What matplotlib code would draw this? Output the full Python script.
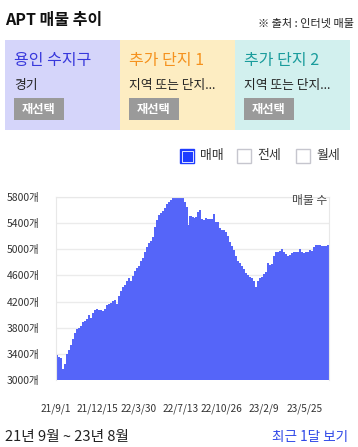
import numpy as np
import pandas as pd
import matplotlib
matplotlib.use('Agg')
import matplotlib.pyplot as plt
from matplotlib.patches import Rectangle

plt.rcParams['font.family'] = ['Noto Sans CJK KR', 'DejaVu Sans']

# data ==========================================================
period_start = '2021-09-01'
period_end   = '2023-07-25'

listings = [
    3377, 3345, 3340, 3175, 3250, 3400, 3460, 3540, 3620, 3720,
    3785, 3795, 3820, 3880, 3905, 3940, 3990, 3950, 4030, 4070,
    4080, 4075, 4068, 4062, 4085, 4140, 4170, 4175, 4215, 4220,
    4165, 4290, 4366, 4420, 4453, 4520, 4556, 4515, 4592, 4673,
    4720, 4750, 4823, 4864, 4960, 5040, 5100, 5130, 5187, 5340,
    5450, 5530, 5560, 5590, 5633, 5700, 5720, 5760, 5800, 5838,
    5835, 5827, 5812, 5787, 5720, 5640, 5376, 5515, 5488, 5475,
    5495, 5570, 5607, 5470, 5453, 5479, 5469, 5464, 5464, 5545,
    5422, 5422, 5325, 5300, 5300, 5258, 5207, 5104, 5053, 4991,
    4900, 4823, 4787, 4740, 4700, 4640, 4600, 4575, 4560, 4515,
    4430, 4520, 4555, 4570, 4620, 4660, 4787, 4761, 4780, 4900,
    4960, 4966, 4981, 5007, 4966, 4930, 4904, 4915, 4945, 4956,
    4951, 4966, 5007, 4966, 4941, 4966, 4966, 4991, 4981, 5030,
    5069, 5059, 5060, 5043, 5053, 5053, 5069,
]

y_ticks     = [3000, 3400, 3800, 4200, 4600, 5000, 5400, 5800]
tick_dates  = ['2021-09-01', '2021-12-15', '2022-03-30', '2022-07-13',
               '2022-10-26', '2023-02-09', '2023-05-25']
tick_labels = ['21/9/1', '21/12/15', '22/3/30', '22/7/13',
               '22/10/26', '23/2/9', '23/5/25']

panel_titles = ['용인 수지구', '추가 단지 1', '추가 단지 2']
panel_subs   = ['경기', '지역 또는 단지...', '지역 또는 단지...']
legend_items = ['매매', '전세', '월세']

# style ==========================================================
W, H = 358, 447
BAR   = '#5565f9'
panel_bg  = ['#d5d5fa', '#fdedc2', '#d2f0ee']
panel_fg  = ['#3838dc', '#f5921e', '#1a9c9c']

fig = plt.figure(figsize=(W / 100, H / 100), dpi=100)

# page layer in pixel coordinates
bg = fig.add_axes([0, 0, 1, 1])
bg.set_xlim(0, W)
bg.set_ylim(H, 0)
bg.axis('off')

bg.text(5, 20, 'APT 매물 추이', fontsize=11.5, fontweight='bold', color='#111', va='center')
bg.text(354, 24, '※ 출처 : 인터넷 매물', fontsize=8, color='#222', va='center', ha='right')

x0 = 5
pw = 115
for i in range(3):
    left = x0 + i * pw
    bg.add_patch(Rectangle((left, 40), pw, 90, facecolor=panel_bg[i], edgecolor='none'))
    bg.text(left + 9, 61, panel_titles[i], fontsize=11.5, color=panel_fg[i], va='center')
    bg.text(left + 9, 85, panel_subs[i], fontsize=9.2, color='#222', va='center')
    bg.add_patch(Rectangle((left + 9, 98), 50, 22, facecolor='#9a9a9a', edgecolor='none'))
    bg.text(left + 34, 109, '재선택', fontsize=8.8, color='white', fontweight='bold',
            va='center', ha='center')

# legend checkboxes
lx = [180, 237, 296]
for i, name in enumerate(legend_items):
    if i == 0:
        bg.add_patch(Rectangle((lx[i], 149), 14, 14, facecolor='#1f3cff', edgecolor='#1f3cff', lw=1))
        bg.add_patch(Rectangle((lx[i] + 1.5, 150.5), 11, 11, facecolor='none', edgecolor='white', lw=0.6))
    else:
        bg.add_patch(Rectangle((lx[i], 149), 14, 14, facecolor='white', edgecolor='#c6c6ce', lw=1))
    bg.text(lx[i] + 20, 156, name, fontsize=9.3, color='#333', va='center')

bg.text(5, 437, '21년 9월 ~ 23년 8월', fontsize=10.6, color='#222', va='center')
bg.text(348, 437, '최근 1달 보기', fontsize=9.8, color='#2f48e8', va='center', ha='right')

# chart ==========================================================
ax = fig.add_axes([56 / W, (H - 380) / H, 273 / W, 183 / H])
start = pd.Timestamp(period_start)
total_days = (pd.Timestamp(period_end) - start).days
n = len(listings)
step = total_days / n
xs = (np.arange(n) + 0.5) * step
ax.bar(xs, listings, width=step * 1.02, color=BAR, linewidth=0, zorder=2)

ax.set_xlim(0, total_days)
ax.set_ylim(y_ticks[0], y_ticks[-1])
ax.set_yticks(y_ticks)
ax.set_yticklabels([f'{v}개' for v in y_ticks], fontsize=7.5, color='#333')
ticks_x = [(pd.Timestamp(d) - start).days for d in tick_dates]
ax.set_xticks(ticks_x)
ax.set_xticklabels(tick_labels, fontsize=7.3, color='#333')
ax.tick_params(axis='both', length=0)
ax.tick_params(axis='y', pad=12)
ax.tick_params(axis='x', pad=17)
ax.grid(axis='y', color='#ebebeb', lw=1, zorder=0)
ax.set_axisbelow(True)
for s in ax.spines.values():
    s.set_color('#e8e8e8')
ax.spines['bottom'].set_visible(False)
ax.text(0.995, 1.0 + 3 / 183, '매물 수', transform=ax.transAxes, fontsize=8.5, color='#444',
        ha='right', va='top', zorder=3)

fig.savefig('out.png', dpi=100)
